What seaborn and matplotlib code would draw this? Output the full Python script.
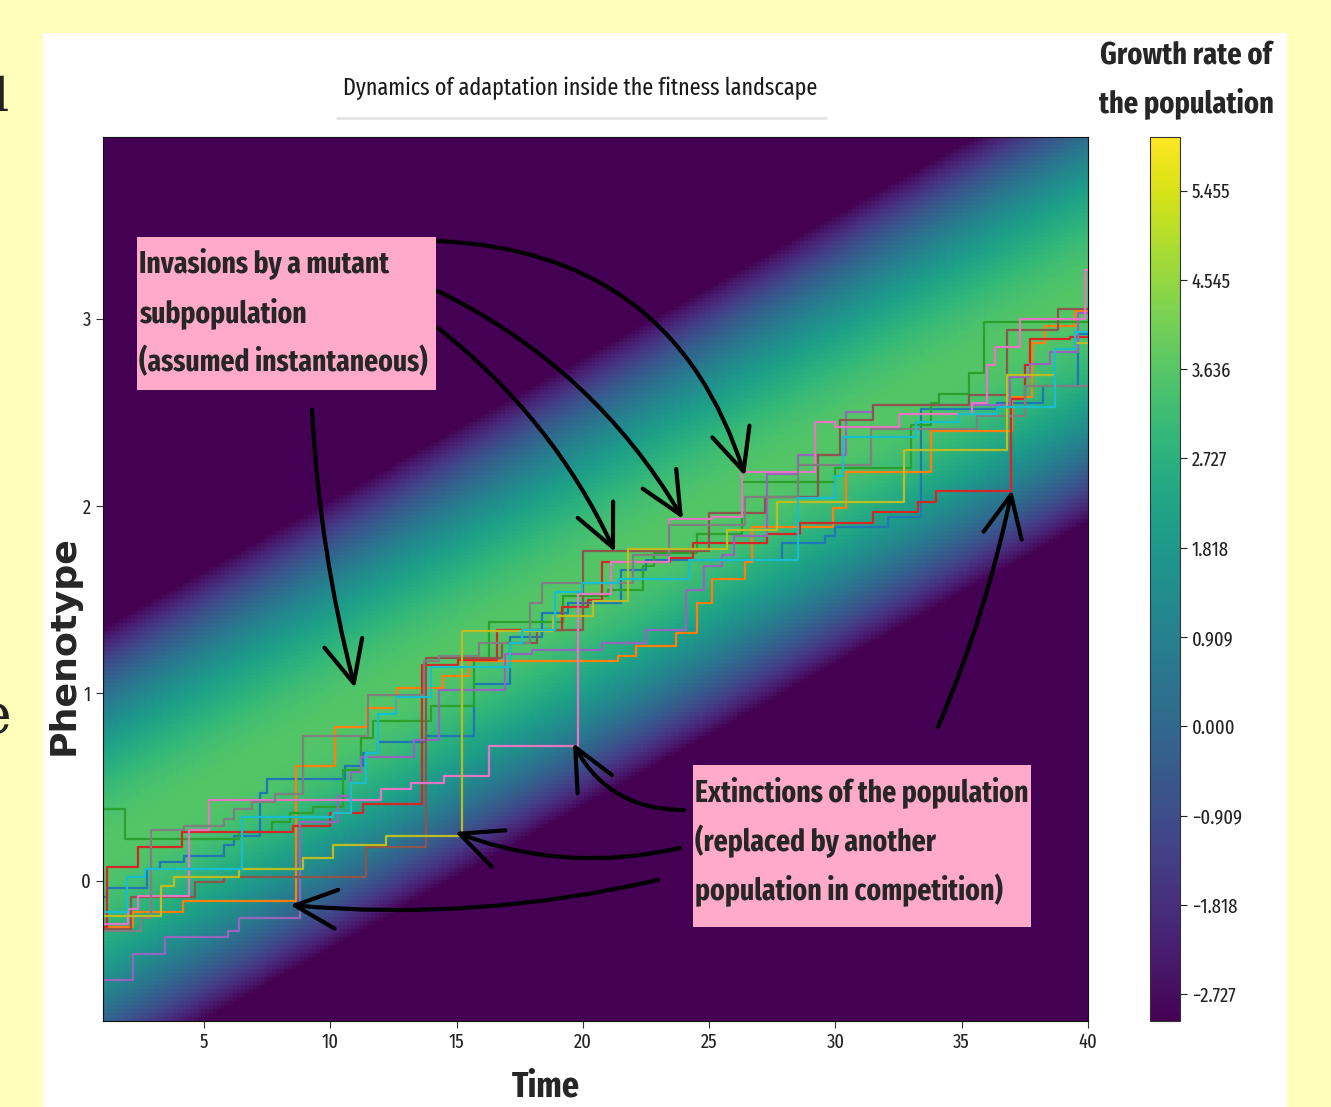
import numpy as np
import pandas as pd
import matplotlib
matplotlib.use('Agg')
import matplotlib.pyplot as plt
from matplotlib import font_manager
from matplotlib.patches import Rectangle
from matplotlib.lines import Line2D
import seaborn as sns

W, H = 1331, 1107

# step trajectories: time of each jump and phenotype after the jump
blue_time = [1.0, 1.16, 2.75, 3.25, 4.2, 5.8, 6.2, 7.2, 7.5, 10.6, 11.3, 11.9, 13.8, 15.7, 17.1, 18.4, 19.4, 21.5, 22.5, 27.9, 29.6, 30.0, 32.1, 33.4, 36.4, 38.2, 39.6]
blue_phen = [-0.09, -0.04, 0.06, 0.10, 0.13, 0.19, 0.24, 0.47, 0.54, 0.61, 0.68, 0.74, 0.77, 1.05, 1.30, 1.43, 1.48, 1.66, 1.71, 1.80, 1.84, 1.89, 1.94, 2.52, 2.55, 2.64, 2.92]

orange_time = [1.0, 2.19, 4.17, 8.64, 10.18, 11.45, 12.63, 14.45, 15.5, 21.4, 22.1, 23.7, 24.5, 25.1, 26.4, 26.7, 29.9, 30.4, 33.8, 37.0, 37.8, 38.3, 39.5]
orange_phen = [-0.25, -0.17, -0.11, 0.61, 0.82, 0.92, 1.03, 1.09, 1.17, 1.20, 1.25, 1.32, 1.48, 1.61, 1.70, 1.89, 1.99, 2.18, 2.40, 2.58, 2.87, 2.96, 3.04]

green_time = [1.0, 1.87, 6.4, 7.7, 8.4, 9.3, 10.5, 11.2, 11.7, 14.0, 15.7, 16.3, 19.2, 21.0, 22.4, 22.8, 24.5, 26.3, 30.0, 33.0, 33.8, 34.1, 35.3, 35.9]
green_phen = [0.38, 0.22, 0.26, 0.31, 0.36, 0.39, 0.59, 0.76, 0.85, 0.93, 1.18, 1.38, 1.52, 1.55, 1.68, 1.75, 1.85, 2.13, 2.20, 2.43, 2.55, 2.60, 2.71, 2.98]

red_time = [1.0, 1.16, 2.39, 4.13, 8.52, 9.98, 11.29, 13.62, 15.05, 16.6, 19.16, 20.2, 20.75, 23.44, 24.35, 27.3, 28.6, 31.5, 33.25, 34.0, 36.97, 37.5, 37.7, 39.3]
red_phen = [-0.25, 0.07, 0.18, 0.26, 0.29, 0.36, 0.41, 1.15, 1.18, 1.34, 1.46, 1.50, 1.70, 1.72, 1.80, 1.85, 1.91, 1.97, 2.02, 2.08, 2.57, 2.75, 2.89, 2.90]

purple_time = [1.0, 2.19, 3.45, 5.95, 6.4, 8.8, 10.3, 10.8, 11.2, 13.3, 14.3, 16.9, 18.0, 20.75, 22.5, 24.1, 24.8, 25.5, 26.0, 27.3, 28.5, 30.4, 31.5, 36.9, 37.7, 38.5, 39.6]
purple_phen = [-0.53, -0.39, -0.30, -0.27, -0.20, 0.31, 0.45, 0.58, 0.66, 0.75, 1.02, 1.21, 1.23, 1.27, 1.34, 1.55, 1.68, 1.74, 1.84, 2.17, 2.27, 2.50, 2.54, 2.69, 2.76, 2.82, 3.03]

brown_time = [1.0, 2.1, 4.65, 5.8, 11.4, 13.8, 16.8, 18.2, 20.0, 25.0, 27.2, 29.3, 30.2, 31.5, 35.3, 36.8, 38.8]
brown_phen = [-0.26, -0.09, -0.01, 0.02, 0.18, 1.19, 1.27, 1.34, 1.76, 1.96, 2.05, 2.27, 2.46, 2.54, 2.59, 2.94, 3.05]

pink_time = [1.0, 2.0, 2.4, 4.4, 5.2, 12.0, 13.2, 14.5, 16.3, 19.8, 21.1, 23.4, 25.1, 26.3, 29.2, 30.0, 32.5, 35.4, 36.0, 36.3, 37.3, 39.9]
pink_phen = [-0.23, -0.15, -0.08, 0.27, 0.43, 0.49, 0.52, 0.56, 0.72, 1.53, 1.70, 1.93, 1.94, 2.18, 2.45, 2.42, 2.49, 2.55, 2.75, 2.85, 3.00, 3.26]

gray_time = [1.0, 2.5, 2.9, 4.2, 5.8, 6.2, 6.9, 7.8, 8.9, 11.5, 13.7, 14.3, 15.9, 17.9, 18.4, 22.0, 23.4, 26.4, 28.5, 31.4, 35.6, 37.5]
gray_phen = [-0.27, -0.20, 0.27, 0.29, 0.33, 0.38, 0.42, 0.46, 0.77, 0.99, 1.17, 1.20, 1.27, 1.48, 1.59, 1.74, 1.90, 2.05, 2.22, 2.41, 2.48, 2.64]

olive_time = [1.0, 3.3, 3.8, 6.4, 8.9, 10.1, 12.2, 15.2, 18.8, 20.4, 21.8, 25.7, 27.7, 32.7, 36.8, 38.7, 39.5]
olive_phen = [-0.19, -0.03, 0.02, 0.06, 0.12, 0.19, 0.24, 1.33, 1.41, 1.49, 1.77, 1.87, 2.02, 2.30, 2.70, 2.84, 2.87]

cyan_time = [1.0, 1.95, 2.65, 6.5, 10.1, 10.8, 11.4, 11.9, 12.6, 14.0, 17.1, 17.6, 18.9, 19.95, 21.4, 24.2, 28.5, 30.0, 30.3, 33.2, 34.9, 36.4, 38.7, 39.5]
cyan_phen = [-0.17, 0.02, 0.06, 0.34, 0.36, 0.52, 0.68, 0.89, 0.98, 1.14, 1.27, 1.34, 1.54, 1.59, 1.61, 1.71, 2.04, 2.16, 2.37, 2.45, 2.49, 2.53, 2.84, 2.93]

runs = {
    'blue': (blue_time, blue_phen), 'orange': (orange_time, orange_phen),
    'green': (green_time, green_phen), 'red': (red_time, red_phen),
    'purple': (purple_time, purple_phen), 'brown': (brown_time, brown_phen),
    'pink': (pink_time, pink_phen), 'gray': (gray_time, gray_phen),
    'olive': (olive_time, olive_phen), 'cyan': (cyan_time, cyan_phen),
}

# fitness landscape: moving optimum, parabolic growth rate
T_MAX = 40.0
OPT_START = 0.15
OPT_SPEED = 0.076
R_MAX = 3.6
CURV = 4.55
Y_LIM = (-0.75, 3.97)

CBAR_TICKS = [-2.727, -1.818, -0.909, 0.0, 0.909, 1.818, 2.727, 3.636, 4.545, 5.455]
CBAR_LABELS = ['\u22122.727', '\u22121.818', '\u22120.909', '0.000', '0.909', '1.818', '2.727', '3.636', '4.545', '5.455']

rows = []
for name, (ts, ps) in runs.items():
    for t, p in zip(ts + [T_MAX], ps + [ps[-1]]):
        rows.append((name, t, p))
traj = pd.DataFrame(rows, columns=['run', 'time', 'phenotype'])

t_grid = np.linspace(1, T_MAX, 250)
p_grid = np.linspace(Y_LIM[0], Y_LIM[1], 220)
TT, PP = np.meshgrid(t_grid, p_grid)
growth = R_MAX - CURV * (PP - (OPT_START + OPT_SPEED * (TT - 1))) ** 2

# fonts: pick a condensed family if one is installed
sns.set_style('ticks')
fm_names = {f.name for f in font_manager.fontManager.ttflist}
COND = 'DejaVu Sans'
for cand in ['Fira Sans Extra Condensed', 'Fira Sans Condensed', 'Open Sans Condensed',
             'Roboto Condensed', 'Barlow Condensed', 'Archivo Narrow', 'Liberation Sans Narrow']:
    if cand in fm_names:
        COND = cand
        break
plt.rcParams['font.family'] = [COND, 'DejaVu Sans']

fig = plt.figure(figsize=(W / 100, H / 100), dpi=100, facecolor='#ffffbb')
renderer = fig.canvas.get_renderer()


def fx(x):
    return x / W


def fy(y):
    return 1 - y / H


def fit(txt, target, vertical=False):
    # scale a text so its rendered width (or height) matches the reference
    bb = txt.get_window_extent(renderer)
    size = bb.height if vertical else bb.width
    txt.set_fontsize(txt.get_fontsize() * target / size)
    return txt.get_fontsize()


fig.add_artist(Rectangle((fx(43), 0), fx(1287) - fx(43), fy(33), transform=fig.transFigure,
                         facecolor='white', edgecolor='none', zorder=-10))

ax = fig.add_axes([fx(103), fy(1021), fx(1088) - fx(103), fy(137) - fy(1021)])
im = ax.imshow(growth, extent=[1, T_MAX, Y_LIM[0], Y_LIM[1]], origin='lower', aspect='auto',
               cmap='viridis', vmin=-3, vmax=6, interpolation='nearest')

sns.lineplot(data=traj, x='time', y='phenotype', hue='run', hue_order=list(runs),
             palette='tab10', drawstyle='steps-post', estimator=None, legend=False,
             linewidth=1.6, ax=ax)

# tick label size matched to the width of '5.455'
probe = fig.text(0, 0, '5.455', fontsize=12)
TICK_FS = fit(probe, 39)
probe.remove()

ax.set_xlim(1, T_MAX)
ax.set_ylim(*Y_LIM)
ax.set_xticks([5, 10, 15, 20, 25, 30, 35, 40])
ax.set_yticks([0, 1, 2, 3])
ax.tick_params(labelsize=TICK_FS, length=5, color='#333333', labelcolor='#222222')
ax.set_xlabel('')
ax.set_ylabel('')
for s in ax.spines.values():
    s.set_color('#111111')

cax = fig.add_axes([fx(1150), fy(1021), fx(1180) - fx(1150), fy(137) - fy(1021)])
cb = fig.colorbar(im, cax=cax, ticks=CBAR_TICKS)
cb.ax.set_yticklabels(CBAR_LABELS)
cb.ax.tick_params(labelsize=TICK_FS, length=5, labelcolor='#222222')
cb.outline.set_edgecolor('#333333')

# titles and labels
title = fig.text(fx(580), fy(88), 'Dynamics of adaptation inside the fitness landscape',
                 ha='center', va='center', fontsize=18, color='#1a1a1a', fontweight='normal')
fit(title, 475)
fig.add_artist(Line2D([fx(337), fx(826)], [fy(118), fy(118)], transform=fig.transFigure,
                      color='#e4e4e4', lw=2))
g1 = fig.text(fx(1186), fy(55), 'Growth rate of', ha='center', va='center',
              fontsize=22, fontweight='bold')
gfs = fit(g1, 172)
fig.text(fx(1186), fy(103), 'the population', ha='center', va='center',
         fontsize=gfs, fontweight='bold')
tl = fig.text(fx(546), fy(1087), 'Time', ha='center', va='center', fontsize=25, fontweight='bold')
fit(tl, 68)
ph = fig.text(fx(64), fy(645), 'Phenotype', ha='center', va='center', rotation=90,
              fontsize=21, fontweight='bold', family='DejaVu Sans')
fit(ph, 220, vertical=True)

# cut-off slide text at the left edge
fig.text(fx(9), fy(98), 'l', ha='right', va='center', fontsize=34, family='DejaVu Serif', color='#222222')
fig.text(fx(11), fy(718), 'e', ha='right', va='center', fontsize=40, family='DejaVu Serif', color='#222222')

# annotation boxes
PINK = '#ffaac8'
fig.add_artist(Rectangle((fx(137), fy(390)), fx(436) - fx(137), fy(237) - fy(390),
                         transform=fig.transFigure, facecolor=PINK, edgecolor='none', zorder=5))
box1 = [fig.text(fx(139), fy(y), line, ha='left', va='center', fontsize=20, fontweight='bold', zorder=6)
        for y, line in zip([263, 313, 362], ['Invasions by a mutant', 'subpopulation', '(assumed instantaneous)'])]
bfs = fit(box1[2], 289)
for t in box1:
    t.set_fontsize(bfs)

fig.add_artist(Rectangle((fx(693), fy(927)), fx(1031) - fx(693), fy(765) - fy(927),
                         transform=fig.transFigure, facecolor=PINK, edgecolor='none', zorder=5))
box2 = [fig.text(fx(695), fy(y), line, ha='left', va='center', fontsize=bfs, fontweight='bold', zorder=6)
        for y, line in zip([792, 841, 890], ['Extinctions of the population', '(replaced by another', 'population in competition)'])]
b2fs = fit(box2[0], 333)
for t in box2:
    t.set_fontsize(b2fs)

# hand-drawn arrows
arrows = [
    ((438, 241), (745, 476), -0.35),
    ((438, 291), (683, 519), -0.15),
    ((438, 328), (615, 552), -0.12),
    ((312, 410), (355, 688), 0.05),
    ((684, 810), (573, 743), -0.3),
    ((680, 848), (455, 832), -0.15),
    ((658, 880), (290, 905), -0.08),
    ((938, 727), (1012, 490), 0.05),
]
for (sx, sy), (ex, ey), rad in arrows:
    ax.annotate('', xy=(fx(ex), fy(ey)), xytext=(fx(sx), fy(sy)),
                xycoords='figure fraction', textcoords='figure fraction',
                arrowprops=dict(arrowstyle='->,head_length=1.5,head_width=0.7', lw=3,
                                color='black', connectionstyle=f'arc3,rad={rad}',
                                mutation_scale=20, shrinkA=0, shrinkB=0),
                annotation_clip=False, zorder=7)

fig.savefig('out.png', dpi=100, facecolor=fig.get_facecolor())
